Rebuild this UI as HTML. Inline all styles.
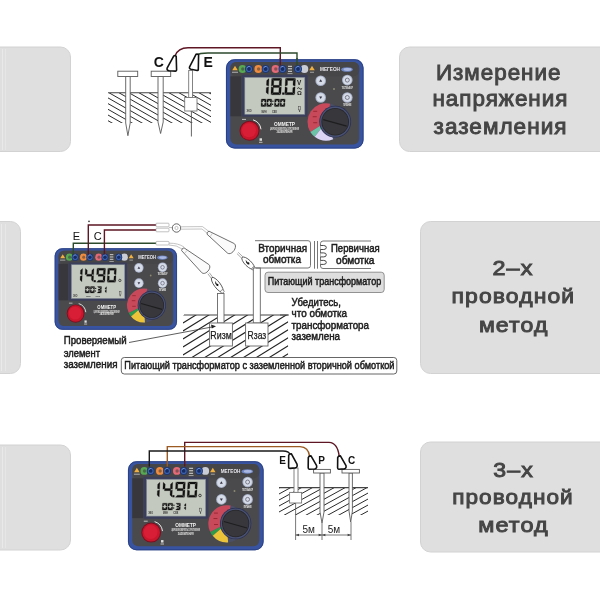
<!DOCTYPE html>
<html><head><meta charset="utf-8"><title>Измерение сопротивления заземления</title>
<style>html,body{margin:0;padding:0;background:#fff;}body{width:600px;height:600px;overflow:hidden;position:relative;font-family:"Liberation Sans",sans-serif;}text{font-family:"Liberation Sans",sans-serif;}</style>
</head><body>
<svg width="600" height="600" viewBox="0 0 600 600" style="position:absolute;left:0;top:0;will-change:transform"><rect x="-20.0" y="47.0" width="90.5" height="104.5" rx="10" fill="#dfdfdf" stroke="#d2d2d2" stroke-width="1"/><rect x="2" y="49" width="1" height="101" fill="#e9e9e9"/><rect x="5" y="49" width="1" height="101" fill="#e6e6e6"/><rect x="399.5" y="47.0" width="220.0" height="104.5" rx="10" fill="#dfdfdf" stroke="#d2d2d2" stroke-width="1"/><rect x="-20.0" y="221.5" width="40.5" height="152.0" rx="10" fill="#dfdfdf" stroke="#d2d2d2" stroke-width="1"/><rect x="1" y="224" width="1" height="147" fill="#eaeaea"/><rect x="5" y="224" width="1" height="147" fill="#e7e7e7"/><rect x="420.5" y="221.5" width="200.0" height="152.0" rx="10" fill="#dfdfdf" stroke="#d2d2d2" stroke-width="1"/><rect x="-20.0" y="445.0" width="90.5" height="105.0" rx="10" fill="#dfdfdf" stroke="#d2d2d2" stroke-width="1"/><rect x="2" y="447" width="1" height="101" fill="#e9e9e9"/><rect x="5" y="447" width="1" height="101" fill="#e6e6e6"/><rect x="420.5" y="442.0" width="200.0" height="110.0" rx="10" fill="#dfdfdf" stroke="#d2d2d2" stroke-width="1"/><text x="435.9" y="80.0" font-family="Liberation Sans, sans-serif" font-size="22.5" font-weight="normal" fill="#454545" stroke="#454545" stroke-width="0.95" textLength="125.6" lengthAdjust="spacingAndGlyphs" letter-spacing="1">Измерение</text><text x="432.4" y="106.3" font-family="Liberation Sans, sans-serif" font-size="22.5" font-weight="normal" fill="#454545" stroke="#454545" stroke-width="0.95" textLength="136.1" lengthAdjust="spacingAndGlyphs" letter-spacing="1">напряжения</text><text x="433.6" y="134.0" font-family="Liberation Sans, sans-serif" font-size="22.5" font-weight="normal" fill="#454545" stroke="#454545" stroke-width="0.95" textLength="133.9" lengthAdjust="spacingAndGlyphs" letter-spacing="1">заземления</text><text x="492.5" y="275.0" font-family="Liberation Sans, sans-serif" font-size="21.0" font-weight="normal" fill="#454545" stroke="#454545" stroke-width="0.95" textLength="41.0" lengthAdjust="spacingAndGlyphs" letter-spacing="1">2–х</text><text x="451.6" y="303.0" font-family="Liberation Sans, sans-serif" font-size="21.0" font-weight="normal" fill="#454545" stroke="#454545" stroke-width="0.95" textLength="123.6" lengthAdjust="spacingAndGlyphs" letter-spacing="1">проводной</text><text x="478.9" y="332.0" font-family="Liberation Sans, sans-serif" font-size="21.0" font-weight="normal" fill="#454545" stroke="#454545" stroke-width="0.95" textLength="69.6" lengthAdjust="spacingAndGlyphs" letter-spacing="1">метод</text><text x="493.3" y="476.7" font-family="Liberation Sans, sans-serif" font-size="21.0" font-weight="normal" fill="#454545" stroke="#454545" stroke-width="0.95" textLength="40.5" lengthAdjust="spacingAndGlyphs" letter-spacing="1">3–х</text><text x="452.2" y="503.8" font-family="Liberation Sans, sans-serif" font-size="21.0" font-weight="normal" fill="#454545" stroke="#454545" stroke-width="0.95" textLength="121.6" lengthAdjust="spacingAndGlyphs" letter-spacing="1">проводной</text><text x="478.2" y="532.0" font-family="Liberation Sans, sans-serif" font-size="21.0" font-weight="normal" fill="#454545" stroke="#454545" stroke-width="0.95" textLength="70.7" lengthAdjust="spacingAndGlyphs" letter-spacing="1">метод</text><clipPath id="h1"><rect x="108.0" y="93.0" width="103.0" height="30.0"/></clipPath><g clip-path="url(#h1)" stroke="#2a2a2a" stroke-width="1.00"><line x1="108.0" y1="29.50" x2="211.0" y2="88.21"/><line x1="108.0" y1="35.20" x2="211.0" y2="93.91"/><line x1="108.0" y1="40.90" x2="211.0" y2="99.61"/><line x1="108.0" y1="46.60" x2="211.0" y2="105.31"/><line x1="108.0" y1="52.30" x2="211.0" y2="111.01"/><line x1="108.0" y1="58.00" x2="211.0" y2="116.71"/><line x1="108.0" y1="63.70" x2="211.0" y2="122.41"/><line x1="108.0" y1="69.40" x2="211.0" y2="128.11"/><line x1="108.0" y1="75.10" x2="211.0" y2="133.81"/><line x1="108.0" y1="80.80" x2="211.0" y2="139.51"/><line x1="108.0" y1="86.50" x2="211.0" y2="145.21"/><line x1="108.0" y1="92.20" x2="211.0" y2="150.91"/><line x1="108.0" y1="97.90" x2="211.0" y2="156.61"/><line x1="108.0" y1="103.60" x2="211.0" y2="162.31"/><line x1="108.0" y1="109.30" x2="211.0" y2="168.01"/><line x1="108.0" y1="115.00" x2="211.0" y2="173.71"/><line x1="108.0" y1="120.70" x2="211.0" y2="179.41"/><line x1="108.0" y1="126.40" x2="211.0" y2="185.11"/><line x1="108.0" y1="132.10" x2="211.0" y2="190.81"/><line x1="108.0" y1="137.80" x2="211.0" y2="196.51"/><line x1="108.0" y1="143.50" x2="211.0" y2="202.21"/><line x1="108.0" y1="149.20" x2="211.0" y2="207.91"/><line x1="108.0" y1="154.90" x2="211.0" y2="213.61"/><line x1="108.0" y1="160.60" x2="211.0" y2="219.31"/><line x1="108.0" y1="166.30" x2="211.0" y2="225.01"/><line x1="108.0" y1="172.00" x2="211.0" y2="230.71"/><line x1="108.0" y1="177.70" x2="211.0" y2="236.41"/><line x1="108.0" y1="183.40" x2="211.0" y2="242.11"/></g><line x1="108" y1="92.8" x2="211" y2="92.8" stroke="#444" stroke-width="1.1"/><path d="M 125.7 76.5 L 130.2 76.5 L 130.2 123.0 L 127.9 135.7 L 125.7 123.0 Z" fill="#fff" stroke="#5a5a5a" stroke-width="0.9" stroke-linejoin="round"/><rect x="117.8" y="71.2" width="19.9" height="5.3" fill="#fff" stroke="#5a5a5a" stroke-width="0.9"/><path d="M 158.0 76.5 L 163.2 76.5 L 163.2 122.0 L 160.6 133.5 L 158.0 122.0 Z" fill="#fff" stroke="#5a5a5a" stroke-width="0.9" stroke-linejoin="round"/><rect x="151.2" y="71.2" width="19.5" height="5.3" fill="#fff" stroke="#5a5a5a" stroke-width="0.9"/><line x1="191.4" y1="111" x2="191.4" y2="136.5" stroke="#555" stroke-width="0.9"/><rect x="188.7" y="70.5" width="3.8" height="27" fill="#fff" stroke="#777" stroke-width="0.9"/><rect x="184.7" y="97.5" width="12.3" height="13.5" fill="#fff" stroke="#777" stroke-width="0.9"/><path d="M 175 56 Q 178 47.8 188 47.8 L 280.3 47.8 L 280.3 65.5" fill="none" stroke="#5e1624" stroke-width="1.4"/><path d="M 197.5 55 Q 199 53 208 53 L 297 53 L 297 65.5" fill="none" stroke="#2c4a2c" stroke-width="1.4"/><path d="M 173.8 55.9 Q 175.2 55.2 176.2 56.2 L 176.6 70.1 Q 176.6 71.1 175.6 71.1 L 169.2 70.8 Q 166.6 70.4 167.1 68.1 Z" fill="#fff" stroke="#111" stroke-width="1.6" stroke-linejoin="round"/><path d="M 196.0 54.3 Q 197.6 53.8 198.6 54.7 L 198.3 69.7 Q 198.2 70.6 197.2 70.5 L 191.0 69.3 Q 188.9 68.8 189.6 66.8 Z" fill="#fff" stroke="#111" stroke-width="1.6" stroke-linejoin="round"/><text x="158.8" y="67.2" font-family="Liberation Sans, sans-serif" font-size="14.0" font-weight="bold" fill="#111" text-anchor="middle" >C</text><text x="208.2" y="67.2" font-family="Liberation Sans, sans-serif" font-size="14.0" font-weight="bold" fill="#111" text-anchor="middle" >E</text><!--M1--><g transform="translate(226.00 59.30) scale(1.0000 1.0000)"><rect x="0" y="0" width="137.5" height="89.2" rx="8.5" fill="#3853a0"/><rect x="0.4" y="0.4" width="136.7" height="88.4" rx="8.2" fill="none" stroke="#253a7c" stroke-width="0.8"/><rect x="4.3" y="2.6" width="128.9" height="82.5" rx="6" fill="#4a4a4c"/><rect x="4.3" y="2.6" width="128.9" height="14.4" rx="6" fill="#464648"/><rect x="4.3" y="17" width="11" height="40" fill="#38383c"/><circle cx="16.50" cy="9.70" r="3.9" fill="#58a852"/><circle cx="16.80" cy="9.70" r="1.7" fill="#3a3a3a" opacity="0.55"/><circle cx="23.00" cy="9.70" r="4.0" fill="#1f3772"/><circle cx="23.00" cy="9.70" r="3.0" fill="#3e64b0"/><circle cx="23.00" cy="9.70" r="1.9" fill="#172c62"/><path d="M 21.40 8.30 a 2.6 2.6 0 0 1 2.4 -1.2" fill="none" stroke="#9fb6e6" stroke-width="0.6"/><circle cx="32.30" cy="9.70" r="3.9" fill="#f08c40"/><circle cx="32.60" cy="9.70" r="1.7" fill="#3a3a3a" opacity="0.55"/><circle cx="39.60" cy="9.70" r="4.0" fill="#1f3772"/><circle cx="39.60" cy="9.70" r="3.0" fill="#3e64b0"/><circle cx="39.60" cy="9.70" r="1.9" fill="#172c62"/><path d="M 38.00 8.30 a 2.6 2.6 0 0 1 2.4 -1.2" fill="none" stroke="#9fb6e6" stroke-width="0.6"/><circle cx="49.50" cy="9.70" r="3.9" fill="#e36a76"/><circle cx="49.80" cy="9.70" r="1.7" fill="#3a3a3a" opacity="0.55"/><circle cx="56.50" cy="9.70" r="4.0" fill="#1f3772"/><circle cx="56.50" cy="9.70" r="3.0" fill="#3e64b0"/><circle cx="56.50" cy="9.70" r="1.9" fill="#172c62"/><path d="M 54.90 8.30 a 2.6 2.6 0 0 1 2.4 -1.2" fill="none" stroke="#9fb6e6" stroke-width="0.6"/><rect x="62" y="6.5" width="4" height="1" fill="#ddd"/><rect x="62" y="9" width="4" height="1" fill="#ddd"/><rect x="62" y="11.5" width="4" height="1" fill="#ddd"/><rect x="61.5" y="14" width="5" height="0.8" fill="#bbb"/><circle cx="78.4" cy="9.70" r="3.9" fill="#c9ccd4"/><circle cx="72.00" cy="9.70" r="4.0" fill="#1f3772"/><circle cx="72.00" cy="9.70" r="3.0" fill="#3e64b0"/><circle cx="72.00" cy="9.70" r="1.9" fill="#172c62"/><path d="M 70.40 8.30 a 2.6 2.6 0 0 1 2.4 -1.2" fill="none" stroke="#9fb6e6" stroke-width="0.6"/><polygon points="9,6.5 11.8,11 6.2,11" fill="#f0b040"/><rect x="6" y="12.5" width="6" height="0.8" fill="#ccc"/><polygon points="86,6.5 88.8,11 83.2,11" fill="#f0b040"/><rect x="84" y="12.5" width="4" height="0.8" fill="#bbb"/><text x="94" y="12" font-family='Liberation Sans' font-weight="bold" font-size="5.2" fill="#e8e8ee" textLength="20" lengthAdjust="spacingAndGlyphs">MEГЕОН</text><ellipse cx="121" cy="10.2" rx="5.8" ry="2.3" fill="#6e86c4"/><ellipse cx="121.5" cy="10.2" rx="4" ry="1.4" fill="#aab8e0"/><rect x="15.6" y="15.5" width="66" height="42" rx="1.5" fill="#3a3e5a"/><rect x="18.8" y="18" width="60" height="37" fill="#c4c9bf"/><rect x="18.8" y="18" width="60" height="37" fill="none" stroke="#7a8290" stroke-width="0.6"/><polygon points="40.71,21.22 43.01,19.30 42.63,26.75 40.47,25.93" fill="#111" stroke="#111" stroke-width="0.25" stroke-linejoin="round"/><polygon points="40.35,28.37 42.59,27.55 42.22,35.00 40.12,33.08" fill="#111" stroke="#111" stroke-width="0.25" stroke-linejoin="round"/><polygon points="46.12,18.90 55.33,18.90 53.30,21.10 47.93,21.10" fill="#111" stroke="#111" stroke-width="0.25" stroke-linejoin="round"/><polygon points="53.41,21.22 55.71,19.30 55.33,26.75 53.17,25.93" fill="#111" stroke="#111" stroke-width="0.25" stroke-linejoin="round"/><polygon points="53.05,28.37 55.29,27.55 54.92,35.00 52.82,33.08" fill="#111" stroke="#111" stroke-width="0.25" stroke-linejoin="round"/><polygon points="47.33,33.20 52.69,33.20 54.50,35.40 45.30,35.40" fill="#111" stroke="#111" stroke-width="0.25" stroke-linejoin="round"/><polygon points="45.29,27.55 47.45,28.37 47.22,33.08 44.92,35.00" fill="#111" stroke="#111" stroke-width="0.25" stroke-linejoin="round"/><polygon points="45.71,19.30 47.81,21.22 47.57,25.93 45.33,26.75" fill="#111" stroke="#111" stroke-width="0.25" stroke-linejoin="round"/><polygon points="47.08,26.05 53.65,26.05 53.54,28.25 46.97,28.25" fill="#111" stroke="#111" stroke-width="0.25" stroke-linejoin="round"/><rect x="56.20" y="33.20" width="2.20" height="2.20" fill="#111"/><polygon points="59.92,18.90 69.13,18.90 67.10,21.10 61.73,21.10" fill="#111" stroke="#111" stroke-width="0.25" stroke-linejoin="round"/><polygon points="67.21,21.22 69.51,19.30 69.13,26.75 66.97,25.93" fill="#111" stroke="#111" stroke-width="0.25" stroke-linejoin="round"/><polygon points="66.85,28.37 69.09,27.55 68.72,35.00 66.62,33.08" fill="#111" stroke="#111" stroke-width="0.25" stroke-linejoin="round"/><polygon points="61.13,33.20 66.49,33.20 68.30,35.40 59.10,35.40" fill="#111" stroke="#111" stroke-width="0.25" stroke-linejoin="round"/><polygon points="59.09,27.55 61.25,28.37 61.02,33.08 58.72,35.00" fill="#111" stroke="#111" stroke-width="0.25" stroke-linejoin="round"/><polygon points="59.51,19.30 61.61,21.22 61.37,25.93 59.13,26.75" fill="#111" stroke="#111" stroke-width="0.25" stroke-linejoin="round"/><text x="71" y="25.3" font-family="Liberation Sans" font-weight="bold" font-size="6.4" fill="#222">V</text><path d="M 71.3 29.2 q 1.2 -1.6 2.4 0 t 2.4 0" fill="none" stroke="#222" stroke-width="1"/><text x="71" y="36" font-family="Liberation Sans" font-weight="bold" font-size="6" fill="#222">Ω</text><polygon points="35.65,39.70 39.91,39.70 38.52,41.20 36.88,41.20" fill="#111" stroke="#111" stroke-width="0.25" stroke-linejoin="round"/><polygon points="38.60,41.28 40.16,39.97 40.00,43.18 38.53,42.62" fill="#111" stroke="#111" stroke-width="0.25" stroke-linejoin="round"/><polygon points="38.45,44.28 39.97,43.72 39.81,46.93 38.38,45.62" fill="#111" stroke="#111" stroke-width="0.25" stroke-linejoin="round"/><polygon points="36.66,45.70 38.29,45.70 39.53,47.20 35.27,47.20" fill="#111" stroke="#111" stroke-width="0.25" stroke-linejoin="round"/><polygon points="35.17,43.72 36.65,44.28 36.58,45.62 35.01,46.93" fill="#111" stroke="#111" stroke-width="0.25" stroke-linejoin="round"/><polygon points="35.36,39.97 36.80,41.28 36.73,42.62 35.20,43.18" fill="#111" stroke="#111" stroke-width="0.25" stroke-linejoin="round"/><polygon points="41.25,39.70 45.51,39.70 44.12,41.20 42.48,41.20" fill="#111" stroke="#111" stroke-width="0.25" stroke-linejoin="round"/><polygon points="44.20,41.28 45.76,39.97 45.60,43.18 44.13,42.62" fill="#111" stroke="#111" stroke-width="0.25" stroke-linejoin="round"/><polygon points="44.05,44.28 45.57,43.72 45.41,46.93 43.98,45.62" fill="#111" stroke="#111" stroke-width="0.25" stroke-linejoin="round"/><polygon points="42.26,45.70 43.89,45.70 45.13,47.20 40.87,47.20" fill="#111" stroke="#111" stroke-width="0.25" stroke-linejoin="round"/><polygon points="40.77,43.72 42.25,44.28 42.18,45.62 40.61,46.93" fill="#111" stroke="#111" stroke-width="0.25" stroke-linejoin="round"/><polygon points="40.96,39.97 42.40,41.28 42.33,42.62 40.80,43.18" fill="#111" stroke="#111" stroke-width="0.25" stroke-linejoin="round"/><rect x="46.30" y="41.35" width="1.20" height="1.20" fill="#111"/><rect x="46.00" y="44.35" width="1.20" height="1.20" fill="#111"/><polygon points="49.05,39.70 53.30,39.70 51.92,41.20 50.28,41.20" fill="#111" stroke="#111" stroke-width="0.25" stroke-linejoin="round"/><polygon points="52.00,41.28 53.56,39.97 53.40,43.18 51.93,42.62" fill="#111" stroke="#111" stroke-width="0.25" stroke-linejoin="round"/><polygon points="51.85,44.28 53.37,43.72 53.21,46.93 51.78,45.62" fill="#111" stroke="#111" stroke-width="0.25" stroke-linejoin="round"/><polygon points="50.06,45.70 51.69,45.70 52.93,47.20 48.67,47.20" fill="#111" stroke="#111" stroke-width="0.25" stroke-linejoin="round"/><polygon points="48.57,43.72 50.05,44.28 49.98,45.62 48.41,46.93" fill="#111" stroke="#111" stroke-width="0.25" stroke-linejoin="round"/><polygon points="48.76,39.97 50.20,41.28 50.13,42.62 48.60,43.18" fill="#111" stroke="#111" stroke-width="0.25" stroke-linejoin="round"/><polygon points="54.65,39.70 58.91,39.70 57.52,41.20 55.88,41.20" fill="#111" stroke="#111" stroke-width="0.25" stroke-linejoin="round"/><polygon points="57.60,41.28 59.16,39.97 59.00,43.18 57.53,42.62" fill="#111" stroke="#111" stroke-width="0.25" stroke-linejoin="round"/><polygon points="57.45,44.28 58.97,43.72 58.81,46.93 57.38,45.62" fill="#111" stroke="#111" stroke-width="0.25" stroke-linejoin="round"/><polygon points="55.66,45.70 57.29,45.70 58.53,47.20 54.27,47.20" fill="#111" stroke="#111" stroke-width="0.25" stroke-linejoin="round"/><polygon points="54.17,43.72 55.65,44.28 55.58,45.62 54.01,46.93" fill="#111" stroke="#111" stroke-width="0.25" stroke-linejoin="round"/><polygon points="54.36,39.97 55.80,41.28 55.73,42.62 54.20,43.18" fill="#111" stroke="#111" stroke-width="0.25" stroke-linejoin="round"/><text x="20.5" y="53" font-family="Liberation Sans" font-weight="bold" font-size="3" fill="#333" textLength="5" lengthAdjust="spacingAndGlyphs">ЭКО</text><text x="35.5" y="53.3" font-family="Liberation Sans" font-weight="bold" font-size="2.6" fill="#333" textLength="5" lengthAdjust="spacingAndGlyphs">МИН</text><text x="46" y="53.3" font-family="Liberation Sans" font-weight="bold" font-size="2.6" fill="#333" textLength="5" lengthAdjust="spacingAndGlyphs">СЕК</text><rect x="72.6" y="47" width="2" height="3.6" fill="none" stroke="#444" stroke-width="0.5"/><rect x="73.1" y="51" width="1" height="1.5" fill="#333"/><circle cx="94.70" cy="21.40" r="5.3" fill="#aab3c9"/><circle cx="94.70" cy="21.40" r="4.3" fill="#d6dbe8"/><polygon points="94.70,19.90 96.20,22.40 93.20,22.40" fill="#334"/><circle cx="94.70" cy="38.20" r="5.3" fill="#aab3c9"/><circle cx="94.70" cy="38.20" r="4.3" fill="#d6dbe8"/><polygon points="94.70,39.70 96.20,37.20 93.20,37.20" fill="#334"/><circle cx="121.30" cy="20.80" r="5.3" fill="#aab3c9"/><circle cx="121.30" cy="20.80" r="4.3" fill="#d6dbe8"/><circle cx="121.30" cy="20.80" r="2" fill="none" stroke="#556" stroke-width="0.7"/><circle cx="121.30" cy="38.20" r="5.3" fill="#aab3c9"/><circle cx="121.30" cy="38.20" r="4.3" fill="#d6dbe8"/><circle cx="121.30" cy="38.20" r="2" fill="none" stroke="#556" stroke-width="0.7"/><text x="121.3" y="29.4" font-family="Liberation Sans" font-weight="bold" font-size="2.9" fill="#eeeeee" text-anchor="middle" textLength="11" lengthAdjust="spacingAndGlyphs">ТЕСТ/ВЫБОР</text><text x="121.3" y="46.6" font-family="Liberation Sans" font-weight="bold" font-size="2.9" fill="#eeeeee" text-anchor="middle" textLength="8" lengthAdjust="spacingAndGlyphs">ПИТАНИЕ</text><circle cx="108" cy="29.8" r="1" fill="#8a8a70"/><circle cx="23.5" cy="71.5" r="10" fill="#7a1020"/><circle cx="23.5" cy="71.5" r="9" fill="#c8162c"/><circle cx="23" cy="71" r="7" fill="#d81e36"/><path d="M 27 60.5 A 11.5 11.5 0 0 1 35 70" fill="none" stroke="#e8e8e8" stroke-width="1"/><rect x="16" y="59.6" width="4" height="0.9" fill="#ccc"/><rect x="33.5" y="79" width="2.5" height="2.5" fill="#ddd"/><rect x="33" y="82.5" width="3.5" height="0.9" fill="#ccc"/><text x="58.5" y="66.3" font-family='Liberation Sans' font-weight="bold" font-size="5.6" fill="#f2f2f2" text-anchor="middle" textLength="21" lengthAdjust="spacingAndGlyphs">ОММЕТР</text><text x="58.5" y="70.4" font-family="Liberation Sans" font-weight="bold" font-size="2.9" fill="#e4e4e4" text-anchor="middle" textLength="29" lengthAdjust="spacingAndGlyphs">ЦИФРОВОЙ ИЗМЕРИТЕЛЬ СОПРОТИВЛЕНИЯ</text><text x="58.5" y="73.6" font-family="Liberation Sans" font-weight="bold" font-size="2.9" fill="#e4e4e4" text-anchor="middle" textLength="16" lengthAdjust="spacingAndGlyphs">ЗАЗЕМЛЕНИЯ</text><circle cx="100.20" cy="62.70" r="18.70" fill="#4a4f68"/><path d="M 100.20 62.70 L 104.09 44.41 A 18.70 18.70 0 0 0 84.34 72.61 Z" fill="#c84a5a"/><path d="M 100.20 62.70 L 84.34 72.61 A 18.70 18.70 0 0 0 88.69 77.44 Z" fill="#6cc2a6"/><path d="M 100.20 62.70 L 88.69 77.44 A 18.70 18.70 0 0 0 107.21 80.04 Z" fill="#dcd4f4"/><rect x="87.2" y="51.5" width="4" height="0.9" fill="#8a1a26" opacity="0.8"/><rect x="86.7" y="57.0" width="4" height="0.9" fill="#8a1a26" opacity="0.8"/><rect x="87.2" y="63.0" width="4" height="0.9" fill="#8a1a26" opacity="0.8"/><circle cx="109.20" cy="62.40" r="15.9" fill="#2a3052"/><circle cx="109.20" cy="62.40" r="15.1" fill="#4a5274"/><circle cx="109.20" cy="62.40" r="13.8" fill="#26262a"/><circle cx="109.20" cy="62.40" r="13.0" fill="#38383c"/><line x1="97.20" y1="60.40" x2="120.70" y2="66.90" stroke="#1e1e21" stroke-width="1.2"/></g><path d="M 280.3 58 L 280.3 65.5" stroke="#5e1624" stroke-width="1.4"/><path d="M 297 58 L 297 65.5" stroke="#2c4a2c" stroke-width="1.4"/><g transform="translate(54.70 248.30) scale(0.8890 0.9130)"><rect x="0" y="0" width="137.5" height="89.2" rx="8.5" fill="#3853a0"/><rect x="0.4" y="0.4" width="136.7" height="88.4" rx="8.2" fill="none" stroke="#253a7c" stroke-width="0.8"/><rect x="4.3" y="2.6" width="128.9" height="82.5" rx="6" fill="#4a4a4c"/><rect x="4.3" y="2.6" width="128.9" height="14.4" rx="6" fill="#464648"/><rect x="4.3" y="17" width="11" height="40" fill="#38383c"/><circle cx="16.50" cy="9.70" r="3.9" fill="#58a852"/><circle cx="16.80" cy="9.70" r="1.7" fill="#3a3a3a" opacity="0.55"/><circle cx="23.00" cy="9.70" r="4.0" fill="#1f3772"/><circle cx="23.00" cy="9.70" r="3.0" fill="#3e64b0"/><circle cx="23.00" cy="9.70" r="1.9" fill="#172c62"/><path d="M 21.40 8.30 a 2.6 2.6 0 0 1 2.4 -1.2" fill="none" stroke="#9fb6e6" stroke-width="0.6"/><circle cx="32.30" cy="9.70" r="3.9" fill="#f08c40"/><circle cx="32.60" cy="9.70" r="1.7" fill="#3a3a3a" opacity="0.55"/><circle cx="39.60" cy="9.70" r="4.0" fill="#1f3772"/><circle cx="39.60" cy="9.70" r="3.0" fill="#3e64b0"/><circle cx="39.60" cy="9.70" r="1.9" fill="#172c62"/><path d="M 38.00 8.30 a 2.6 2.6 0 0 1 2.4 -1.2" fill="none" stroke="#9fb6e6" stroke-width="0.6"/><circle cx="49.50" cy="9.70" r="3.9" fill="#e36a76"/><circle cx="49.80" cy="9.70" r="1.7" fill="#3a3a3a" opacity="0.55"/><circle cx="56.50" cy="9.70" r="4.0" fill="#1f3772"/><circle cx="56.50" cy="9.70" r="3.0" fill="#3e64b0"/><circle cx="56.50" cy="9.70" r="1.9" fill="#172c62"/><path d="M 54.90 8.30 a 2.6 2.6 0 0 1 2.4 -1.2" fill="none" stroke="#9fb6e6" stroke-width="0.6"/><rect x="62" y="6.5" width="4" height="1" fill="#ddd"/><rect x="62" y="9" width="4" height="1" fill="#ddd"/><rect x="62" y="11.5" width="4" height="1" fill="#ddd"/><rect x="61.5" y="14" width="5" height="0.8" fill="#bbb"/><circle cx="78.4" cy="9.70" r="3.9" fill="#c9ccd4"/><circle cx="72.00" cy="9.70" r="4.0" fill="#1f3772"/><circle cx="72.00" cy="9.70" r="3.0" fill="#3e64b0"/><circle cx="72.00" cy="9.70" r="1.9" fill="#172c62"/><path d="M 70.40 8.30 a 2.6 2.6 0 0 1 2.4 -1.2" fill="none" stroke="#9fb6e6" stroke-width="0.6"/><polygon points="9,6.5 11.8,11 6.2,11" fill="#f0b040"/><rect x="6" y="12.5" width="6" height="0.8" fill="#ccc"/><polygon points="86,6.5 88.8,11 83.2,11" fill="#f0b040"/><rect x="84" y="12.5" width="4" height="0.8" fill="#bbb"/><text x="94" y="12" font-family='Liberation Sans' font-weight="bold" font-size="5.2" fill="#e8e8ee" textLength="20" lengthAdjust="spacingAndGlyphs">MEГЕОН</text><ellipse cx="121" cy="10.2" rx="5.8" ry="2.3" fill="#6e86c4"/><ellipse cx="121.5" cy="10.2" rx="4" ry="1.4" fill="#aab8e0"/><rect x="15.6" y="15.5" width="66" height="42" rx="1.5" fill="#3a3e5a"/><rect x="18.8" y="18" width="60" height="37" fill="#c4c9bf"/><rect x="18.8" y="18" width="60" height="37" fill="none" stroke="#7a8290" stroke-width="0.6"/><polygon points="29.05,24.12 31.35,22.20 31.00,29.05 28.84,28.23" fill="#111" stroke="#111" stroke-width="0.25" stroke-linejoin="round"/><polygon points="28.72,30.67 30.96,29.85 30.62,36.70 28.52,34.78" fill="#111" stroke="#111" stroke-width="0.25" stroke-linejoin="round"/><polygon points="34.55,22.20 36.65,24.12 36.44,28.23 34.20,29.05" fill="#111" stroke="#111" stroke-width="0.25" stroke-linejoin="round"/><polygon points="35.95,28.35 42.12,28.35 42.01,30.55 35.84,30.55" fill="#111" stroke="#111" stroke-width="0.25" stroke-linejoin="round"/><polygon points="41.85,24.12 44.15,22.20 43.80,29.05 41.64,28.23" fill="#111" stroke="#111" stroke-width="0.25" stroke-linejoin="round"/><polygon points="41.52,30.67 43.76,29.85 43.42,36.70 41.32,34.78" fill="#111" stroke="#111" stroke-width="0.25" stroke-linejoin="round"/><rect x="44.00" y="34.90" width="2.20" height="2.20" fill="#111"/><polygon points="47.96,21.80 56.77,21.80 54.74,24.00 49.77,24.00" fill="#111" stroke="#111" stroke-width="0.25" stroke-linejoin="round"/><polygon points="54.85,24.12 57.15,22.20 56.80,29.05 54.64,28.23" fill="#111" stroke="#111" stroke-width="0.25" stroke-linejoin="round"/><polygon points="54.52,30.67 56.76,29.85 56.42,36.70 54.32,34.78" fill="#111" stroke="#111" stroke-width="0.25" stroke-linejoin="round"/><polygon points="49.23,34.90 54.19,34.90 56.00,37.10 47.20,37.10" fill="#111" stroke="#111" stroke-width="0.25" stroke-linejoin="round"/><polygon points="47.55,22.20 49.65,24.12 49.44,28.23 47.20,29.05" fill="#111" stroke="#111" stroke-width="0.25" stroke-linejoin="round"/><polygon points="48.95,28.35 55.12,28.35 55.01,30.55 48.84,30.55" fill="#111" stroke="#111" stroke-width="0.25" stroke-linejoin="round"/><polygon points="60.16,21.80 68.97,21.80 66.94,24.00 61.97,24.00" fill="#111" stroke="#111" stroke-width="0.25" stroke-linejoin="round"/><polygon points="67.05,24.12 69.35,22.20 69.00,29.05 66.84,28.23" fill="#111" stroke="#111" stroke-width="0.25" stroke-linejoin="round"/><polygon points="66.72,30.67 68.96,29.85 68.62,36.70 66.52,34.78" fill="#111" stroke="#111" stroke-width="0.25" stroke-linejoin="round"/><polygon points="61.43,34.90 66.39,34.90 68.20,37.10 59.40,37.10" fill="#111" stroke="#111" stroke-width="0.25" stroke-linejoin="round"/><polygon points="59.36,29.85 61.52,30.67 61.32,34.78 59.02,36.70" fill="#111" stroke="#111" stroke-width="0.25" stroke-linejoin="round"/><polygon points="59.75,22.20 61.85,24.12 61.64,28.23 59.40,29.05" fill="#111" stroke="#111" stroke-width="0.25" stroke-linejoin="round"/><circle cx="73.30" cy="35.20" r="1.3" fill="none" stroke="#222" stroke-width="0.8"/><polygon points="34.83,41.80 39.09,41.80 37.70,43.30 36.06,43.30" fill="#111" stroke="#111" stroke-width="0.25" stroke-linejoin="round"/><polygon points="37.78,43.38 39.34,42.07 39.19,45.08 37.72,44.52" fill="#111" stroke="#111" stroke-width="0.25" stroke-linejoin="round"/><polygon points="37.64,46.18 39.16,45.62 39.01,48.63 37.58,47.32" fill="#111" stroke="#111" stroke-width="0.25" stroke-linejoin="round"/><polygon points="35.86,47.40 37.49,47.40 38.73,48.90 34.47,48.90" fill="#111" stroke="#111" stroke-width="0.25" stroke-linejoin="round"/><polygon points="34.36,45.62 35.84,46.18 35.78,47.32 34.21,48.63" fill="#111" stroke="#111" stroke-width="0.25" stroke-linejoin="round"/><polygon points="34.54,42.07 35.98,43.38 35.92,44.52 34.39,45.08" fill="#111" stroke="#111" stroke-width="0.25" stroke-linejoin="round"/><polygon points="40.42,41.80 44.68,41.80 43.30,43.30 41.66,43.30" fill="#111" stroke="#111" stroke-width="0.25" stroke-linejoin="round"/><polygon points="43.38,43.38 44.94,42.07 44.79,45.08 43.32,44.52" fill="#111" stroke="#111" stroke-width="0.25" stroke-linejoin="round"/><polygon points="43.24,46.18 44.76,45.62 44.61,48.63 43.18,47.32" fill="#111" stroke="#111" stroke-width="0.25" stroke-linejoin="round"/><polygon points="41.46,47.40 43.09,47.40 44.33,48.90 40.07,48.90" fill="#111" stroke="#111" stroke-width="0.25" stroke-linejoin="round"/><polygon points="39.96,45.62 41.44,46.18 41.38,47.32 39.81,48.63" fill="#111" stroke="#111" stroke-width="0.25" stroke-linejoin="round"/><polygon points="40.14,42.07 41.58,43.38 41.52,44.52 39.99,45.08" fill="#111" stroke="#111" stroke-width="0.25" stroke-linejoin="round"/><rect x="45.50" y="43.36" width="1.20" height="1.20" fill="#111"/><rect x="45.20" y="46.20" width="1.20" height="1.20" fill="#111"/><polygon points="48.23,41.80 52.48,41.80 51.10,43.30 49.46,43.30" fill="#111" stroke="#111" stroke-width="0.25" stroke-linejoin="round"/><polygon points="51.18,43.38 52.74,42.07 52.59,45.08 51.12,44.52" fill="#111" stroke="#111" stroke-width="0.25" stroke-linejoin="round"/><polygon points="48.99,44.60 51.45,44.60 51.37,46.10 48.91,46.10" fill="#111" stroke="#111" stroke-width="0.25" stroke-linejoin="round"/><polygon points="51.04,46.18 52.56,45.62 52.41,48.63 50.98,47.32" fill="#111" stroke="#111" stroke-width="0.25" stroke-linejoin="round"/><polygon points="49.26,47.40 50.89,47.40 52.13,48.90 47.87,48.90" fill="#111" stroke="#111" stroke-width="0.25" stroke-linejoin="round"/><polygon points="56.78,43.38 58.34,42.07 58.19,45.08 56.72,44.52" fill="#111" stroke="#111" stroke-width="0.25" stroke-linejoin="round"/><polygon points="56.64,46.18 58.16,45.62 58.01,48.63 56.58,47.32" fill="#111" stroke="#111" stroke-width="0.25" stroke-linejoin="round"/><text x="20.5" y="53" font-family="Liberation Sans" font-weight="bold" font-size="3" fill="#333" textLength="5" lengthAdjust="spacingAndGlyphs">ЭКО</text><text x="35.5" y="53.3" font-family="Liberation Sans" font-weight="bold" font-size="2.6" fill="#333" textLength="5" lengthAdjust="spacingAndGlyphs">МИН</text><text x="46" y="53.3" font-family="Liberation Sans" font-weight="bold" font-size="2.6" fill="#333" textLength="5" lengthAdjust="spacingAndGlyphs">СЕК</text><rect x="72.6" y="47" width="2" height="3.6" fill="none" stroke="#444" stroke-width="0.5"/><rect x="73.1" y="51" width="1" height="1.5" fill="#333"/><circle cx="94.70" cy="21.40" r="5.3" fill="#aab3c9"/><circle cx="94.70" cy="21.40" r="4.3" fill="#d6dbe8"/><polygon points="94.70,19.90 96.20,22.40 93.20,22.40" fill="#334"/><circle cx="94.70" cy="38.20" r="5.3" fill="#aab3c9"/><circle cx="94.70" cy="38.20" r="4.3" fill="#d6dbe8"/><polygon points="94.70,39.70 96.20,37.20 93.20,37.20" fill="#334"/><circle cx="121.30" cy="20.80" r="5.3" fill="#aab3c9"/><circle cx="121.30" cy="20.80" r="4.3" fill="#d6dbe8"/><circle cx="121.30" cy="20.80" r="2" fill="none" stroke="#556" stroke-width="0.7"/><circle cx="121.30" cy="38.20" r="5.3" fill="#aab3c9"/><circle cx="121.30" cy="38.20" r="4.3" fill="#d6dbe8"/><circle cx="121.30" cy="38.20" r="2" fill="none" stroke="#556" stroke-width="0.7"/><text x="121.3" y="29.4" font-family="Liberation Sans" font-weight="bold" font-size="2.9" fill="#eeeeee" text-anchor="middle" textLength="11" lengthAdjust="spacingAndGlyphs">ТЕСТ/ВЫБОР</text><text x="121.3" y="46.6" font-family="Liberation Sans" font-weight="bold" font-size="2.9" fill="#eeeeee" text-anchor="middle" textLength="8" lengthAdjust="spacingAndGlyphs">ПИТАНИЕ</text><circle cx="108" cy="29.8" r="1" fill="#8a8a70"/><circle cx="23.5" cy="71.5" r="10" fill="#7a1020"/><circle cx="23.5" cy="71.5" r="9" fill="#c8162c"/><circle cx="23" cy="71" r="7" fill="#d81e36"/><path d="M 27 60.5 A 11.5 11.5 0 0 1 35 70" fill="none" stroke="#e8e8e8" stroke-width="1"/><rect x="16" y="59.6" width="4" height="0.9" fill="#ccc"/><rect x="33.5" y="79" width="2.5" height="2.5" fill="#ddd"/><rect x="33" y="82.5" width="3.5" height="0.9" fill="#ccc"/><text x="58.5" y="66.3" font-family='Liberation Sans' font-weight="bold" font-size="5.6" fill="#f2f2f2" text-anchor="middle" textLength="21" lengthAdjust="spacingAndGlyphs">ОММЕТР</text><text x="58.5" y="70.4" font-family="Liberation Sans" font-weight="bold" font-size="2.9" fill="#e4e4e4" text-anchor="middle" textLength="29" lengthAdjust="spacingAndGlyphs">ЦИФРОВОЙ ИЗМЕРИТЕЛЬ СОПРОТИВЛЕНИЯ</text><text x="58.5" y="73.6" font-family="Liberation Sans" font-weight="bold" font-size="2.9" fill="#e4e4e4" text-anchor="middle" textLength="16" lengthAdjust="spacingAndGlyphs">ЗАЗЕМЛЕНИЯ</text><circle cx="100.20" cy="62.70" r="18.70" fill="#4a4f68"/><path d="M 100.20 62.70 L 104.09 44.41 A 18.70 18.70 0 0 0 83.39 70.90 Z" fill="#c84a5a"/><path d="M 100.20 62.70 L 83.39 70.90 A 18.70 18.70 0 0 0 85.87 74.72 Z" fill="#2e9a4a"/><path d="M 100.20 62.70 L 85.87 74.72 A 18.70 18.70 0 0 0 101.50 81.35 Z" fill="#ecc43a"/><rect x="87.2" y="51.5" width="4" height="0.9" fill="#8a1a26" opacity="0.8"/><rect x="86.7" y="57.0" width="4" height="0.9" fill="#8a1a26" opacity="0.8"/><rect x="87.2" y="63.0" width="4" height="0.9" fill="#8a1a26" opacity="0.8"/><circle cx="109.20" cy="62.40" r="15.9" fill="#2a3052"/><circle cx="109.20" cy="62.40" r="15.1" fill="#4a5274"/><circle cx="109.20" cy="62.40" r="13.8" fill="#26262a"/><circle cx="109.20" cy="62.40" r="13.0" fill="#38383c"/><line x1="97.20" y1="60.40" x2="120.70" y2="66.90" stroke="#1e1e21" stroke-width="1.2"/></g><g transform="translate(128.00 461.30) scale(0.9860 0.9970)"><rect x="0" y="0" width="137.5" height="89.2" rx="8.5" fill="#3853a0"/><rect x="0.4" y="0.4" width="136.7" height="88.4" rx="8.2" fill="none" stroke="#253a7c" stroke-width="0.8"/><rect x="4.3" y="2.6" width="128.9" height="82.5" rx="6" fill="#4a4a4c"/><rect x="4.3" y="2.6" width="128.9" height="14.4" rx="6" fill="#464648"/><rect x="4.3" y="17" width="11" height="40" fill="#38383c"/><circle cx="16.50" cy="9.70" r="3.9" fill="#58a852"/><circle cx="16.80" cy="9.70" r="1.7" fill="#3a3a3a" opacity="0.55"/><circle cx="23.00" cy="9.70" r="4.0" fill="#1f3772"/><circle cx="23.00" cy="9.70" r="3.0" fill="#3e64b0"/><circle cx="23.00" cy="9.70" r="1.9" fill="#172c62"/><path d="M 21.40 8.30 a 2.6 2.6 0 0 1 2.4 -1.2" fill="none" stroke="#9fb6e6" stroke-width="0.6"/><circle cx="32.30" cy="9.70" r="3.9" fill="#f08c40"/><circle cx="32.60" cy="9.70" r="1.7" fill="#3a3a3a" opacity="0.55"/><circle cx="39.60" cy="9.70" r="4.0" fill="#1f3772"/><circle cx="39.60" cy="9.70" r="3.0" fill="#3e64b0"/><circle cx="39.60" cy="9.70" r="1.9" fill="#172c62"/><path d="M 38.00 8.30 a 2.6 2.6 0 0 1 2.4 -1.2" fill="none" stroke="#9fb6e6" stroke-width="0.6"/><circle cx="49.50" cy="9.70" r="3.9" fill="#e36a76"/><circle cx="49.80" cy="9.70" r="1.7" fill="#3a3a3a" opacity="0.55"/><circle cx="56.50" cy="9.70" r="4.0" fill="#1f3772"/><circle cx="56.50" cy="9.70" r="3.0" fill="#3e64b0"/><circle cx="56.50" cy="9.70" r="1.9" fill="#172c62"/><path d="M 54.90 8.30 a 2.6 2.6 0 0 1 2.4 -1.2" fill="none" stroke="#9fb6e6" stroke-width="0.6"/><rect x="62" y="6.5" width="4" height="1" fill="#ddd"/><rect x="62" y="9" width="4" height="1" fill="#ddd"/><rect x="62" y="11.5" width="4" height="1" fill="#ddd"/><rect x="61.5" y="14" width="5" height="0.8" fill="#bbb"/><circle cx="78.4" cy="9.70" r="3.9" fill="#c9ccd4"/><circle cx="72.00" cy="9.70" r="4.0" fill="#1f3772"/><circle cx="72.00" cy="9.70" r="3.0" fill="#3e64b0"/><circle cx="72.00" cy="9.70" r="1.9" fill="#172c62"/><path d="M 70.40 8.30 a 2.6 2.6 0 0 1 2.4 -1.2" fill="none" stroke="#9fb6e6" stroke-width="0.6"/><polygon points="9,6.5 11.8,11 6.2,11" fill="#f0b040"/><rect x="6" y="12.5" width="6" height="0.8" fill="#ccc"/><polygon points="86,6.5 88.8,11 83.2,11" fill="#f0b040"/><rect x="84" y="12.5" width="4" height="0.8" fill="#bbb"/><text x="94" y="12" font-family='Liberation Sans' font-weight="bold" font-size="5.2" fill="#e8e8ee" textLength="20" lengthAdjust="spacingAndGlyphs">MEГЕОН</text><ellipse cx="121" cy="10.2" rx="5.8" ry="2.3" fill="#6e86c4"/><ellipse cx="121.5" cy="10.2" rx="4" ry="1.4" fill="#aab8e0"/><rect x="15.6" y="15.5" width="66" height="42" rx="1.5" fill="#3a3e5a"/><rect x="18.8" y="18" width="60" height="37" fill="#c4c9bf"/><rect x="18.8" y="18" width="60" height="37" fill="none" stroke="#7a8290" stroke-width="0.6"/><polygon points="30.16,22.91 32.35,21.08 32.00,28.02 29.94,27.24" fill="#111" stroke="#111" stroke-width="0.25" stroke-linejoin="round"/><polygon points="29.83,29.56 31.97,28.78 31.62,35.72 29.61,33.89" fill="#111" stroke="#111" stroke-width="0.25" stroke-linejoin="round"/><polygon points="35.75,21.08 37.76,22.91 37.54,27.24 35.40,28.02" fill="#111" stroke="#111" stroke-width="0.25" stroke-linejoin="round"/><polygon points="37.08,27.35 43.40,27.35 43.29,29.45 36.97,29.45" fill="#111" stroke="#111" stroke-width="0.25" stroke-linejoin="round"/><polygon points="43.16,22.91 45.35,21.08 45.00,28.02 42.94,27.24" fill="#111" stroke="#111" stroke-width="0.25" stroke-linejoin="round"/><polygon points="42.83,29.56 44.97,28.78 44.62,35.72 42.61,33.89" fill="#111" stroke="#111" stroke-width="0.25" stroke-linejoin="round"/><rect x="45.00" y="34.00" width="2.10" height="2.10" fill="#111"/><polygon points="48.95,20.70 57.79,20.70 55.85,22.80 50.68,22.80" fill="#111" stroke="#111" stroke-width="0.25" stroke-linejoin="round"/><polygon points="55.96,22.91 58.15,21.08 57.80,28.02 55.74,27.24" fill="#111" stroke="#111" stroke-width="0.25" stroke-linejoin="round"/><polygon points="55.63,29.56 57.77,28.78 57.42,35.72 55.41,33.89" fill="#111" stroke="#111" stroke-width="0.25" stroke-linejoin="round"/><polygon points="50.12,34.00 55.29,34.00 57.02,36.10 48.18,36.10" fill="#111" stroke="#111" stroke-width="0.25" stroke-linejoin="round"/><polygon points="48.55,21.08 50.56,22.91 50.34,27.24 48.20,28.02" fill="#111" stroke="#111" stroke-width="0.25" stroke-linejoin="round"/><polygon points="49.88,27.35 56.20,27.35 56.09,29.45 49.77,29.45" fill="#111" stroke="#111" stroke-width="0.25" stroke-linejoin="round"/><polygon points="61.15,20.70 69.99,20.70 68.05,22.80 62.88,22.80" fill="#111" stroke="#111" stroke-width="0.25" stroke-linejoin="round"/><polygon points="68.16,22.91 70.35,21.08 70.00,28.02 67.94,27.24" fill="#111" stroke="#111" stroke-width="0.25" stroke-linejoin="round"/><polygon points="67.83,29.56 69.97,28.78 69.62,35.72 67.61,33.89" fill="#111" stroke="#111" stroke-width="0.25" stroke-linejoin="round"/><polygon points="62.32,34.00 67.49,34.00 69.22,36.10 60.38,36.10" fill="#111" stroke="#111" stroke-width="0.25" stroke-linejoin="round"/><polygon points="60.37,28.78 62.43,29.56 62.21,33.89 60.02,35.72" fill="#111" stroke="#111" stroke-width="0.25" stroke-linejoin="round"/><polygon points="60.75,21.08 62.76,22.91 62.54,27.24 60.40,28.02" fill="#111" stroke="#111" stroke-width="0.25" stroke-linejoin="round"/><circle cx="73.00" cy="34.30" r="1.3" fill="none" stroke="#222" stroke-width="0.8"/><polygon points="35.31,42.00 39.58,42.00 38.24,43.45 36.50,43.45" fill="#111" stroke="#111" stroke-width="0.25" stroke-linejoin="round"/><polygon points="38.32,43.53 39.83,42.26 39.69,45.19 38.26,44.65" fill="#111" stroke="#111" stroke-width="0.25" stroke-linejoin="round"/><polygon points="38.18,46.25 39.66,45.71 39.51,48.64 38.13,47.37" fill="#111" stroke="#111" stroke-width="0.25" stroke-linejoin="round"/><polygon points="36.30,47.45 38.04,47.45 39.24,48.90 34.96,48.90" fill="#111" stroke="#111" stroke-width="0.25" stroke-linejoin="round"/><polygon points="34.86,45.71 36.28,46.25 36.23,47.37 34.71,48.64" fill="#111" stroke="#111" stroke-width="0.25" stroke-linejoin="round"/><polygon points="35.03,42.26 36.42,43.53 36.36,44.65 34.89,45.19" fill="#111" stroke="#111" stroke-width="0.25" stroke-linejoin="round"/><polygon points="40.91,42.00 45.18,42.00 43.84,43.45 42.10,43.45" fill="#111" stroke="#111" stroke-width="0.25" stroke-linejoin="round"/><polygon points="43.92,43.53 45.43,42.26 45.29,45.19 43.86,44.65" fill="#111" stroke="#111" stroke-width="0.25" stroke-linejoin="round"/><polygon points="43.78,46.25 45.26,45.71 45.11,48.64 43.73,47.37" fill="#111" stroke="#111" stroke-width="0.25" stroke-linejoin="round"/><polygon points="41.90,47.45 43.64,47.45 44.84,48.90 40.56,48.90" fill="#111" stroke="#111" stroke-width="0.25" stroke-linejoin="round"/><polygon points="40.46,45.71 41.88,46.25 41.83,47.37 40.31,48.64" fill="#111" stroke="#111" stroke-width="0.25" stroke-linejoin="round"/><polygon points="40.63,42.26 42.02,43.53 41.96,44.65 40.49,45.19" fill="#111" stroke="#111" stroke-width="0.25" stroke-linejoin="round"/><rect x="46.00" y="43.52" width="1.16" height="1.16" fill="#111"/><rect x="45.70" y="46.28" width="1.16" height="1.16" fill="#111"/><polygon points="48.71,42.00 52.98,42.00 51.64,43.45 49.90,43.45" fill="#111" stroke="#111" stroke-width="0.25" stroke-linejoin="round"/><polygon points="51.72,43.53 53.23,42.26 53.09,45.19 51.66,44.65" fill="#111" stroke="#111" stroke-width="0.25" stroke-linejoin="round"/><polygon points="49.44,44.73 51.98,44.73 51.91,46.17 49.37,46.17" fill="#111" stroke="#111" stroke-width="0.25" stroke-linejoin="round"/><polygon points="51.58,46.25 53.06,45.71 52.91,48.64 51.53,47.37" fill="#111" stroke="#111" stroke-width="0.25" stroke-linejoin="round"/><polygon points="49.70,47.45 51.44,47.45 52.64,48.90 48.36,48.90" fill="#111" stroke="#111" stroke-width="0.25" stroke-linejoin="round"/><polygon points="57.32,43.53 58.83,42.26 58.69,45.19 57.26,44.65" fill="#111" stroke="#111" stroke-width="0.25" stroke-linejoin="round"/><polygon points="57.18,46.25 58.66,45.71 58.51,48.64 57.13,47.37" fill="#111" stroke="#111" stroke-width="0.25" stroke-linejoin="round"/><text x="20.5" y="53" font-family="Liberation Sans" font-weight="bold" font-size="3" fill="#333" textLength="5" lengthAdjust="spacingAndGlyphs">ЭКО</text><text x="35.5" y="53.3" font-family="Liberation Sans" font-weight="bold" font-size="2.6" fill="#333" textLength="5" lengthAdjust="spacingAndGlyphs">МИН</text><text x="46" y="53.3" font-family="Liberation Sans" font-weight="bold" font-size="2.6" fill="#333" textLength="5" lengthAdjust="spacingAndGlyphs">СЕК</text><rect x="72.6" y="47" width="2" height="3.6" fill="none" stroke="#444" stroke-width="0.5"/><rect x="73.1" y="51" width="1" height="1.5" fill="#333"/><circle cx="94.70" cy="21.40" r="5.3" fill="#aab3c9"/><circle cx="94.70" cy="21.40" r="4.3" fill="#d6dbe8"/><polygon points="94.70,19.90 96.20,22.40 93.20,22.40" fill="#334"/><circle cx="94.70" cy="38.20" r="5.3" fill="#aab3c9"/><circle cx="94.70" cy="38.20" r="4.3" fill="#d6dbe8"/><polygon points="94.70,39.70 96.20,37.20 93.20,37.20" fill="#334"/><circle cx="121.30" cy="20.80" r="5.3" fill="#aab3c9"/><circle cx="121.30" cy="20.80" r="4.3" fill="#d6dbe8"/><circle cx="121.30" cy="20.80" r="2" fill="none" stroke="#556" stroke-width="0.7"/><circle cx="121.30" cy="38.20" r="5.3" fill="#aab3c9"/><circle cx="121.30" cy="38.20" r="4.3" fill="#d6dbe8"/><circle cx="121.30" cy="38.20" r="2" fill="none" stroke="#556" stroke-width="0.7"/><text x="121.3" y="29.4" font-family="Liberation Sans" font-weight="bold" font-size="2.9" fill="#eeeeee" text-anchor="middle" textLength="11" lengthAdjust="spacingAndGlyphs">ТЕСТ/ВЫБОР</text><text x="121.3" y="46.6" font-family="Liberation Sans" font-weight="bold" font-size="2.9" fill="#eeeeee" text-anchor="middle" textLength="8" lengthAdjust="spacingAndGlyphs">ПИТАНИЕ</text><circle cx="108" cy="29.8" r="1" fill="#8a8a70"/><circle cx="23.5" cy="71.5" r="10" fill="#7a1020"/><circle cx="23.5" cy="71.5" r="9" fill="#c8162c"/><circle cx="23" cy="71" r="7" fill="#d81e36"/><path d="M 27 60.5 A 11.5 11.5 0 0 1 35 70" fill="none" stroke="#e8e8e8" stroke-width="1"/><rect x="16" y="59.6" width="4" height="0.9" fill="#ccc"/><rect x="33.5" y="79" width="2.5" height="2.5" fill="#ddd"/><rect x="33" y="82.5" width="3.5" height="0.9" fill="#ccc"/><text x="58.5" y="66.3" font-family='Liberation Sans' font-weight="bold" font-size="5.6" fill="#f2f2f2" text-anchor="middle" textLength="21" lengthAdjust="spacingAndGlyphs">ОММЕТР</text><text x="58.5" y="70.4" font-family="Liberation Sans" font-weight="bold" font-size="2.9" fill="#e4e4e4" text-anchor="middle" textLength="29" lengthAdjust="spacingAndGlyphs">ЦИФРОВОЙ ИЗМЕРИТЕЛЬ СОПРОТИВЛЕНИЯ</text><text x="58.5" y="73.6" font-family="Liberation Sans" font-weight="bold" font-size="2.9" fill="#e4e4e4" text-anchor="middle" textLength="16" lengthAdjust="spacingAndGlyphs">ЗАЗЕМЛЕНИЯ</text><circle cx="100.20" cy="62.70" r="18.70" fill="#4a4f68"/><path d="M 100.20 62.70 L 104.09 44.41 A 18.70 18.70 0 0 0 83.39 70.90 Z" fill="#c84a5a"/><path d="M 100.20 62.70 L 83.39 70.90 A 18.70 18.70 0 0 0 85.87 74.72 Z" fill="#2e9a4a"/><path d="M 100.20 62.70 L 85.87 74.72 A 18.70 18.70 0 0 0 101.50 81.35 Z" fill="#ecc43a"/><rect x="87.2" y="51.5" width="4" height="0.9" fill="#8a1a26" opacity="0.8"/><rect x="86.7" y="57.0" width="4" height="0.9" fill="#8a1a26" opacity="0.8"/><rect x="87.2" y="63.0" width="4" height="0.9" fill="#8a1a26" opacity="0.8"/><circle cx="109.20" cy="62.40" r="15.9" fill="#2a3052"/><circle cx="109.20" cy="62.40" r="15.1" fill="#4a5274"/><circle cx="109.20" cy="62.40" r="13.8" fill="#26262a"/><circle cx="109.20" cy="62.40" r="13.0" fill="#38383c"/><line x1="97.20" y1="60.40" x2="120.70" y2="66.90" stroke="#1e1e21" stroke-width="1.2"/></g><path d="M 73.3 254.5 L 73.3 243.2 L 157 243.2" fill="none" stroke="#2c4a2c" stroke-width="1.4"/><path d="M 88.3 254.5 L 88.3 225 L 156 225" fill="none" stroke="#5e1624" stroke-width="1.4"/><path d="M 104.4 254.5 L 104.4 230 L 156 230" fill="none" stroke="#5e1624" stroke-width="1.4"/><circle cx="89" cy="221.4" r="0.8" fill="#333"/><text x="76.3" y="239.8" font-family="Liberation Sans, sans-serif" font-size="11.0" font-weight="normal" fill="#111" text-anchor="middle" >E</text><text x="97.7" y="239.8" font-family="Liberation Sans, sans-serif" font-size="11.0" font-weight="normal" fill="#111" text-anchor="middle" >C</text><rect x="156" y="223.2" width="13" height="3.6" rx="0.8" fill="#fff" stroke="#999" stroke-width="0.6"/><rect x="156" y="228.2" width="13" height="3.6" rx="0.8" fill="#fff" stroke="#999" stroke-width="0.6"/><rect x="156" y="241.4" width="13" height="3.6" rx="0.8" fill="#fff" stroke="#999" stroke-width="0.6"/><path d="M 169 227.5 L 172 227.5" stroke="#999" stroke-width="0.6"/><circle cx="176.5" cy="228" r="4.2" fill="#fff" stroke="#444" stroke-width="0.8"/><circle cx="176.5" cy="228" r="1.6" fill="none" stroke="#888" stroke-width="0.5"/><path d="M 181 226.8 L 202.5 226.6 L 209 231.5" fill="none" stroke="#aaa" stroke-width="0.7"/><path d="M 181 229.2 L 202 229 L 207.5 233.5" fill="none" stroke="#aaa" stroke-width="0.7"/><path d="M 209.0 231.2 L 234.1 243.5 C 238.4 246.4 231.8 256.1 227.5 253.1 L 207.0 234.2 Q 206.8 231.9 209.0 231.2 Z" fill="#fbfbfb" stroke="#555" stroke-width="0.85"/><line x1="210.1" y1="236.8" x2="212.5" y2="233.1" stroke="#999" stroke-width="0.5"/><path d="M 184.0 247.8 L 208.8 264.5 C 212.5 267.7 205.5 275.9 201.8 272.7 L 181.6 250.6 Q 181.7 248.2 184.0 247.8 Z" fill="#fbfbfb" stroke="#555" stroke-width="0.85"/><line x1="184.4" y1="253.5" x2="187.3" y2="250.1" stroke="#999" stroke-width="0.5"/><path d="M 169 243.2 Q 178 243 184 247" fill="none" stroke="#aaa" stroke-width="0.7"/><path d="M 169 245 Q 177 245 182 249" fill="none" stroke="#aaa" stroke-width="0.7"/><g transform="translate(248.2 263.2) rotate(44.0)"><line x1="-14.8" y1="-0.9" x2="-7.3" y2="-0.9" stroke="#777" stroke-width="0.6"/><line x1="-14.8" y1="0.9" x2="-7.3" y2="0.9" stroke="#777" stroke-width="0.6"/><ellipse cx="0" cy="0" rx="8.3" ry="3.1" fill="#fff" stroke="#444" stroke-width="0.8"/><path d="M -4.2 -0.6 L 2.1 0 L -1.7 1.2 Z" fill="#333"/><circle cx="0.2" cy="0" r="1.1" fill="#111"/><ellipse cx="7.7" cy="0" rx="1.6" ry="1.9" fill="#fff" stroke="#555" stroke-width="0.6"/></g><g transform="translate(217.3 284.8) rotate(53.0)"><line x1="-14.5" y1="-0.9" x2="-8.0" y2="-0.9" stroke="#777" stroke-width="0.6"/><line x1="-14.5" y1="0.9" x2="-8.0" y2="0.9" stroke="#777" stroke-width="0.6"/><ellipse cx="0" cy="0" rx="9.0" ry="3.0" fill="#fff" stroke="#444" stroke-width="0.8"/><path d="M -4.5 -0.6 L 2.2 0 L -1.8 1.2 Z" fill="#333"/><circle cx="0.2" cy="0" r="1.1" fill="#111"/><ellipse cx="8.4" cy="0" rx="1.6" ry="1.8" fill="#fff" stroke="#555" stroke-width="0.6"/></g><clipPath id="h2"><rect x="183.0" y="315.0" width="105.2" height="42.0"/></clipPath><g clip-path="url(#h2)" stroke="#222" stroke-width="1.10"><line x1="183.0" y1="235.00" x2="288.2" y2="169.78"/><line x1="183.0" y1="243.00" x2="288.2" y2="177.78"/><line x1="183.0" y1="251.00" x2="288.2" y2="185.78"/><line x1="183.0" y1="259.00" x2="288.2" y2="193.78"/><line x1="183.0" y1="267.00" x2="288.2" y2="201.78"/><line x1="183.0" y1="275.00" x2="288.2" y2="209.78"/><line x1="183.0" y1="283.00" x2="288.2" y2="217.78"/><line x1="183.0" y1="291.00" x2="288.2" y2="225.78"/><line x1="183.0" y1="299.00" x2="288.2" y2="233.78"/><line x1="183.0" y1="307.00" x2="288.2" y2="241.78"/><line x1="183.0" y1="315.00" x2="288.2" y2="249.78"/><line x1="183.0" y1="323.00" x2="288.2" y2="257.78"/><line x1="183.0" y1="331.00" x2="288.2" y2="265.78"/><line x1="183.0" y1="339.00" x2="288.2" y2="273.78"/><line x1="183.0" y1="347.00" x2="288.2" y2="281.78"/><line x1="183.0" y1="355.00" x2="288.2" y2="289.78"/><line x1="183.0" y1="363.00" x2="288.2" y2="297.78"/><line x1="183.0" y1="371.00" x2="288.2" y2="305.78"/><line x1="183.0" y1="379.00" x2="288.2" y2="313.78"/><line x1="183.0" y1="387.00" x2="288.2" y2="321.78"/><line x1="183.0" y1="395.00" x2="288.2" y2="329.78"/><line x1="183.0" y1="403.00" x2="288.2" y2="337.78"/><line x1="183.0" y1="411.00" x2="288.2" y2="345.78"/><line x1="183.0" y1="419.00" x2="288.2" y2="353.78"/><line x1="183.0" y1="427.00" x2="288.2" y2="361.78"/></g><line x1="184" y1="315" x2="288" y2="315" stroke="#444" stroke-width="1.1"/><rect x="217.5" y="293.5" width="6.5" height="29.5" fill="#fff" stroke="#666" stroke-width="0.9"/><rect x="253.3" y="268" width="7" height="55" fill="#fff" stroke="#666" stroke-width="0.9"/><rect x="209.6" y="323" width="22.8" height="23" fill="#fff" stroke="#666" stroke-width="0.9"/><rect x="245.6" y="323" width="22.4" height="23" fill="#fff" stroke="#666" stroke-width="0.9"/><text x="210.3" y="339.3" font-family="Liberation Sans, sans-serif" font-size="10.5" font-weight="normal" fill="#1c1c1c" stroke="#1c1c1c" stroke-width="0.25" textLength="21.5" lengthAdjust="spacingAndGlyphs" >Rизм</text><text x="247.6" y="339.3" font-family="Liberation Sans, sans-serif" font-size="10.5" font-weight="normal" fill="#1c1c1c" stroke="#1c1c1c" stroke-width="0.25" textLength="18.7" lengthAdjust="spacingAndGlyphs" >Rзаз</text><path d="M 129 342.5 L 213 326.8" fill="none" stroke="#333" stroke-width="0.8"/><polygon points="216,326.3 211,324.5 211.8,328.5" fill="#222"/><text x="63.7" y="344.0" font-family="Liberation Sans, sans-serif" font-size="10.8" font-weight="normal" fill="#1c1c1c" stroke="#1c1c1c" stroke-width="0.50" textLength="63.0" lengthAdjust="spacingAndGlyphs" >Проверяемый</text><text x="63.7" y="356.5" font-family="Liberation Sans, sans-serif" font-size="10.8" font-weight="normal" fill="#1c1c1c" stroke="#1c1c1c" stroke-width="0.50" textLength="36.3" lengthAdjust="spacingAndGlyphs" >элемент</text><text x="63.7" y="368.3" font-family="Liberation Sans, sans-serif" font-size="10.8" font-weight="normal" fill="#1c1c1c" stroke="#1c1c1c" stroke-width="0.50" textLength="53.8" lengthAdjust="spacingAndGlyphs" >заземления</text><rect x="121.3" y="357.5" width="275.5" height="16.5" rx="3" fill="#fff" stroke="#555" stroke-width="0.9"/><text x="124.3" y="369.0" font-family="Liberation Sans, sans-serif" font-size="10.8" font-weight="normal" fill="#1c1c1c" stroke="#1c1c1c" stroke-width="0.50" textLength="270.2" lengthAdjust="spacingAndGlyphs" >Питающий трансформатор с заземленной вторичной обмоткой</text><path d="M 255 240.7 L 308 240.7 Q 310.5 240.7 310.5 243 L 310.5 265.5 Q 310.5 268 308 268 L 256 268" fill="none" stroke="#666" stroke-width="0.9"/><line x1="314.5" y1="241" x2="314.5" y2="268.7" stroke="#666" stroke-width="0.9"/><line x1="317.5" y1="241" x2="317.5" y2="268.7" stroke="#666" stroke-width="0.9"/><path d="M 371 241 L 323 241 Q 320.5 241 320.5 243.5 L 320.5 266 Q 320.5 268.5 323 268.5 L 371 268.5" fill="none" stroke="#666" stroke-width="0.9"/><path d="M 320.5 245.5 h 3.2 a 2.6 2.0 0 0 1 0 4.0 h -3.2" fill="#fff" stroke="#333" stroke-width="0.9"/><path d="M 320.5 252.9 h 3.2 a 2.6 2.0 0 0 1 0 4.0 h -3.2" fill="#fff" stroke="#333" stroke-width="0.9"/><path d="M 320.5 260.4 h 3.2 a 2.6 2.0 0 0 1 0 4.0 h -3.2" fill="#fff" stroke="#333" stroke-width="0.9"/><text x="258.3" y="251.7" font-family="Liberation Sans, sans-serif" font-size="10.4" font-weight="normal" fill="#1c1c1c" stroke="#1c1c1c" stroke-width="0.50" textLength="48.7" lengthAdjust="spacingAndGlyphs" >Вторичная</text><text x="263.0" y="263.3" font-family="Liberation Sans, sans-serif" font-size="10.4" font-weight="normal" fill="#1c1c1c" stroke="#1c1c1c" stroke-width="0.50" textLength="38.0" lengthAdjust="spacingAndGlyphs" >обмотка</text><text x="331.0" y="252.2" font-family="Liberation Sans, sans-serif" font-size="10.4" font-weight="normal" fill="#1c1c1c" stroke="#1c1c1c" stroke-width="0.50" textLength="48.7" lengthAdjust="spacingAndGlyphs" >Первичная</text><text x="336.0" y="264.2" font-family="Liberation Sans, sans-serif" font-size="10.4" font-weight="normal" fill="#1c1c1c" stroke="#1c1c1c" stroke-width="0.50" textLength="38.5" lengthAdjust="spacingAndGlyphs" >обмотка</text><rect x="265" y="272.2" width="119.2" height="20.3" rx="3" fill="#dedede" stroke="#888" stroke-width="0.9"/><text x="267.7" y="285.2" font-family="Liberation Sans, sans-serif" font-size="10.8" font-weight="normal" fill="#1c1c1c" stroke="#1c1c1c" stroke-width="0.50" textLength="113.5" lengthAdjust="spacingAndGlyphs" >Питающий трансформатор</text><text x="291.6" y="306.0" font-family="Liberation Sans, sans-serif" font-size="10.8" font-weight="normal" fill="#1c1c1c" stroke="#1c1c1c" stroke-width="0.50" textLength="49.4" lengthAdjust="spacingAndGlyphs" >Убедитесь,</text><text x="291.6" y="317.3" font-family="Liberation Sans, sans-serif" font-size="10.8" font-weight="normal" fill="#1c1c1c" stroke="#1c1c1c" stroke-width="0.50" textLength="55.4" lengthAdjust="spacingAndGlyphs" >что обмотка</text><text x="291.6" y="328.8" font-family="Liberation Sans, sans-serif" font-size="10.8" font-weight="normal" fill="#1c1c1c" stroke="#1c1c1c" stroke-width="0.50" textLength="77.4" lengthAdjust="spacingAndGlyphs" >трансформатора</text><text x="291.6" y="340.3" font-family="Liberation Sans, sans-serif" font-size="10.8" font-weight="normal" fill="#1c1c1c" stroke="#1c1c1c" stroke-width="0.50" textLength="48.4" lengthAdjust="spacingAndGlyphs" >заземлена</text><line x1="280" y1="315" x2="289" y2="315" stroke="#444" stroke-width="0.9"/><path d="M 184.7 466.5 L 184.7 442.4 L 329 442.4 Q 337.5 442.6 339.2 456.2" fill="none" stroke="#5e1624" stroke-width="1.4"/><path d="M 167.3 466.5 L 167.3 446.6 L 300 446.6 Q 308.5 447 309.6 456.2" fill="none" stroke="#9a5a22" stroke-width="1.4"/><path d="M 149.3 466.5 L 149.3 451.0 L 283 451.0 Q 289 451.2 289.8 454.2" fill="none" stroke="#1a1a1a" stroke-width="1.4"/><clipPath id="h3"><rect x="279.0" y="488.0" width="89.0" height="27.0"/></clipPath><g clip-path="url(#h3)" stroke="#2a2a2a" stroke-width="1.00"><line x1="279.0" y1="428.00" x2="368.0" y2="379.05"/><line x1="279.0" y1="434.00" x2="368.0" y2="385.05"/><line x1="279.0" y1="440.00" x2="368.0" y2="391.05"/><line x1="279.0" y1="446.00" x2="368.0" y2="397.05"/><line x1="279.0" y1="452.00" x2="368.0" y2="403.05"/><line x1="279.0" y1="458.00" x2="368.0" y2="409.05"/><line x1="279.0" y1="464.00" x2="368.0" y2="415.05"/><line x1="279.0" y1="470.00" x2="368.0" y2="421.05"/><line x1="279.0" y1="476.00" x2="368.0" y2="427.05"/><line x1="279.0" y1="482.00" x2="368.0" y2="433.05"/><line x1="279.0" y1="488.00" x2="368.0" y2="439.05"/><line x1="279.0" y1="494.00" x2="368.0" y2="445.05"/><line x1="279.0" y1="500.00" x2="368.0" y2="451.05"/><line x1="279.0" y1="506.00" x2="368.0" y2="457.05"/><line x1="279.0" y1="512.00" x2="368.0" y2="463.05"/><line x1="279.0" y1="518.00" x2="368.0" y2="469.05"/><line x1="279.0" y1="524.00" x2="368.0" y2="475.05"/><line x1="279.0" y1="530.00" x2="368.0" y2="481.05"/><line x1="279.0" y1="536.00" x2="368.0" y2="487.05"/><line x1="279.0" y1="542.00" x2="368.0" y2="493.05"/><line x1="279.0" y1="548.00" x2="368.0" y2="499.05"/><line x1="279.0" y1="554.00" x2="368.0" y2="505.05"/><line x1="279.0" y1="560.00" x2="368.0" y2="511.05"/><line x1="279.0" y1="566.00" x2="368.0" y2="517.05"/></g><line x1="279" y1="487.6" x2="368" y2="487.6" stroke="#444" stroke-width="1.1"/><line x1="295.6" y1="503" x2="295.6" y2="540" stroke="#555" stroke-width="0.8"/><rect x="294" y="468" width="4" height="24.4" fill="#fff" stroke="#777" stroke-width="0.9"/><rect x="289.6" y="492.4" width="12" height="10.6" fill="#fff" stroke="#777" stroke-width="0.9"/><path d="M 320.0 473.0 L 324.0 473.0 L 324.0 512.0 L 322.0 523.0 L 320.0 512.0 Z" fill="#fff" stroke="#5a5a5a" stroke-width="0.9" stroke-linejoin="round"/><rect x="313.6" y="469.4" width="16.8" height="3.6" fill="#fff" stroke="#5a5a5a" stroke-width="0.9"/><path d="M 349.0 473.0 L 352.4 473.0 L 352.4 511.0 L 350.7 522.0 L 349.0 511.0 Z" fill="#fff" stroke="#5a5a5a" stroke-width="0.9" stroke-linejoin="round"/><rect x="342.0" y="469.4" width="17.4" height="3.6" fill="#fff" stroke="#5a5a5a" stroke-width="0.9"/><path d="M 288.7 455.2 Q 289.4 453.6 291.4 453.9 L 297.0 464.2 Q 297.8 467.4 295.2 467.9 L 290.0 468.4 Q 288.6 468.4 288.6 467.0 Z" fill="#fff" stroke="#111" stroke-width="1.6" stroke-linejoin="round"/><path d="M 308.3 457.6 Q 308.9 455.8 311.0 455.9 L 316.6 465.6 Q 317.2 468.6 314.6 469.0 L 309.3 469.2 Q 308.2 469.1 308.2 467.8 Z" fill="#fff" stroke="#111" stroke-width="1.6" stroke-linejoin="round"/><path d="M 337.7 457.6 Q 338.3 455.8 340.4 455.9 L 346.0 465.6 Q 346.6 468.6 344.0 468.9 L 338.7 469.2 Q 337.6 469.1 337.6 467.8 Z" fill="#fff" stroke="#111" stroke-width="1.6" stroke-linejoin="round"/><text x="282.6" y="463.6" font-family="Liberation Sans, sans-serif" font-size="10.0" font-weight="bold" fill="#111" text-anchor="middle" >E</text><text x="321.6" y="463.6" font-family="Liberation Sans, sans-serif" font-size="10.0" font-weight="bold" fill="#111" text-anchor="middle" >P</text><text x="351.6" y="463.6" font-family="Liberation Sans, sans-serif" font-size="10.0" font-weight="bold" fill="#111" text-anchor="middle" >C</text><line x1="322" y1="523" x2="322" y2="540" stroke="#555" stroke-width="0.8"/><line x1="351" y1="522" x2="351" y2="540" stroke="#555" stroke-width="0.8"/><line x1="295.6" y1="535" x2="351" y2="535" stroke="#555" stroke-width="0.8"/><polygon points="295.6,535 299,533.8 299,536.2" fill="#444"/><polygon points="322,535 318.6,533.8 318.6,536.2" fill="#444"/><polygon points="322,535 325.4,533.8 325.4,536.2" fill="#444"/><polygon points="351,535 347.6,533.8 347.6,536.2" fill="#444"/><text x="308.7" y="533.0" font-family="Liberation Sans, sans-serif" font-size="10.0" font-weight="normal" fill="#222" text-anchor="middle" >5м</text><text x="334.0" y="533.0" font-family="Liberation Sans, sans-serif" font-size="10.0" font-weight="normal" fill="#222" text-anchor="middle" >5м</text></svg>
</body></html>
